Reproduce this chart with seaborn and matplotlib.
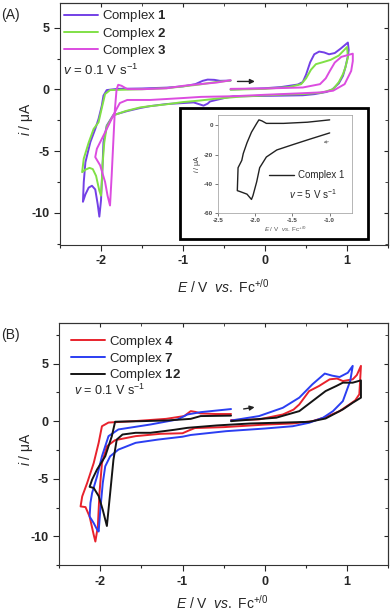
import numpy as np
import pandas as pd
import seaborn as sns
import matplotlib.pyplot as plt
from matplotlib.patches import Rectangle
from matplotlib.ticker import MultipleLocator

# panel A, 0.1 V/s, complexes 1-3
c1_x = [-0.42, -0.2, 0.0, 0.2, 0.4, 0.46, 0.5, 0.55, 0.6, 0.66, 0.72, 0.78, 0.85, 0.92, 1.01,
        1.02, 1.01, 0.98, 0.95, 0.9, 0.82, 0.75, 0.6, 0.46, 0.2, 0.0, -0.3, -0.39, -0.5, -0.67, -0.7,
        -0.75, -0.8, -0.87, -1.0, -1.2, -1.4, -1.52, -1.68, -1.85, -1.93, -1.97, -1.98, -1.99, -2.0,
        -2.02, -2.04, -2.07, -2.11, -2.15, -2.19, -2.22, -2.21, -2.19, -2.13, -2.07, -2.03, -1.99,
        -1.97, -1.93, -1.8, -1.5, -1.2, -1.0, -0.85, -0.76, -0.7, -0.62, -0.55, -0.42]
c1_y = [0.0, 0.05, 0.1, 0.2, 0.4, 0.6, 1.2, 2.2, 2.85, 3.07, 3.0, 2.85, 2.95, 3.3, 3.8,
        3.2, 2.7, 1.8, 1.1, 0.5, 0.0, -0.2, -0.38, -0.47, -0.5, -0.52, -0.55, -0.55, -0.7, -0.97, -1.15,
        -1.31, -1.2, -1.05, -1.1, -1.18, -1.35, -1.5, -1.75, -2.07, -2.93, -4.27, -6.0, -7.5, -9.0,
        -10.3, -9.3, -8.1, -7.8, -7.95, -8.5, -9.1, -7.5, -5.9, -4.27, -3.2, -2.39, -1.31,
        -0.5, -0.05, 0.05, 0.08, 0.15, 0.25, 0.43, 0.7, 0.8, 0.78, 0.7, 0.72]

c2_x = [-0.42, 0.0, 0.3, 0.44, 0.5, 0.56, 0.62, 0.7, 0.8, 0.9, 1.0,
        1.01, 0.98, 0.95, 0.9, 0.83, 0.7, 0.47, 0.2, 0.0, -0.3, -0.6, -0.8, -1.0, -1.2, -1.4, -1.52,
        -1.7, -1.85, -1.93, -1.96, -1.98, -1.99, -2.0, -2.02, -2.06, -2.1, -2.14, -2.19, -2.23,
        -2.21, -2.15, -2.09, -2.03, -1.99, -1.95, -1.89, -1.5, -1.2, -1.0, -0.8, -0.6, -0.42]
c2_y = [-0.02, 0.05, 0.2, 0.43, 0.9, 1.6, 2.05, 2.2, 2.4, 2.75, 3.44,
        2.6, 1.8, 1.24, 0.6, 0.03, -0.25, -0.37, -0.42, -0.48, -0.58, -0.75, -0.9, -1.02, -1.2, -1.35, -1.45,
        -1.75, -2.1, -3.0, -4.3, -6.0, -7.5, -8.6, -8.2, -7.0, -6.45, -6.35, -6.5, -6.7,
        -5.6, -4.3, -3.2, -2.66, -1.5, -0.37, -0.05, 0.02, 0.1, 0.25, 0.4, 0.6, 0.72]

c3_x = [-0.42, 0.0, 0.46, 0.67, 0.74, 0.79, 0.85, 0.93, 1.07,
        1.07, 1.05, 0.97, 0.83, 0.67, 0.4, 0.0, -0.39, -0.78, -0.99, -1.4, -1.68, -1.77, -1.81,
        -1.85, -1.93, -1.99, -2.05, -2.07, -2.01, -1.95, -1.92, -1.89, -1.87, -1.85, -1.83, -1.81,
        -1.79, -1.75, -1.68, -1.5, -1.2, -0.99, -0.8, -0.59, -0.42]
c3_y = [0.05, 0.08, 0.16, 0.43, 0.9, 1.5, 2.18, 2.64, 2.9,
        2.3, 1.5, 0.43, -0.1, -0.24, -0.32, -0.43, -0.55, -0.6, -0.69, -0.85, -0.85, -1.1, -1.58,
        -2.1, -3.2, -4.0, -4.8, -5.48, -6.15, -7.5, -8.6, -9.4, -7.0, -4.27, -1.58, 0.0,
        0.38, 0.3, 0.03, 0.02, 0.1, 0.3, 0.43, 0.56, 0.75]

# inset, complex 1 at 5 V/s
ins_x = [-1.0, -1.3, -1.62, -1.85, -1.91, -1.95, -1.98, -2.05, -2.11, -2.16, -2.18, -2.23, -2.24,
         -2.2, -2.11, -2.05, -2.03, -1.98, -1.94, -1.85, -1.71, -1.49, -1.27, -1.0]
ins_y = [3.6, 2.0, 1.2, 1.2, 2.9, 3.6, 1.2, -4.8, -12, -19.3, -24, -29, -44.6,
         -45.3, -47, -50.6, -48, -38.6, -29, -21.7, -16.9, -13.2, -9.6, -5.3]

# panel B, 0.1 V/s, complexes 4, 7, 12
c4_x = [-0.41, -0.07, 0.22, 0.35, 0.42, 0.54, 0.66, 0.79, 0.88, 0.95, 1.07, 1.12, 1.17,
        1.16, 1.15, 1.1, 1.03, 0.91, 0.74, 0.58, 0.34, 0.0, -0.5, -0.85, -0.92, -1.0, -1.27, -1.57,
        -1.82, -1.92, -1.98, -2.01, -2.03, -2.06, -2.08, -2.13, -2.18, -2.24, -2.22, -2.16, -2.08,
        -2.02, -1.98, -1.9, -1.59, -1.2, -0.98, -0.9, -0.84, -0.78, -0.6, -0.41]
c4_y = [0.1, 0.15, 0.58, 1.0, 1.45, 2.61, 3.05, 3.63, 3.7, 3.48, 3.63, 4.0, 4.8,
        3.5, 2.33, 1.8, 1.45, 0.87, 0.35, 0.0, -0.2, -0.3, -0.52, -0.6, -0.8, -1.05, -1.1, -1.3,
        -1.65, -2.18, -3.63, -6.24, -9.15, -10.45, -9.87, -8.28, -7.46, -7.4, -6.53, -5.37, -3.63,
        -1.88, -0.44, -0.12, 0.0, 0.2, 0.44, 0.87, 0.8, 0.67, 0.62, 0.62]

c7_x = [-0.41, -0.07, 0.22, 0.42, 0.58, 0.73, 0.82, 0.91, 1.01, 1.07,
        1.04, 0.95, 0.83, 0.71, 0.54, 0.34, 0.0, -0.47, -0.9, -1.0, -1.3, -1.57, -1.78, -1.88,
        -1.94, -1.97, -2.0, -2.02, -2.04, -2.08, -2.13, -2.12, -2.1, -2.04, -1.98, -1.9, -1.78,
        -1.39, -1.06, -0.94, -0.78, -0.45, -0.41]
c7_y = [0.05, 0.44, 1.16, 2.04, 3.2, 4.13, 3.95, 3.83, 4.2, 4.8,
        3.5, 1.74, 0.87, 0.3, -0.14, -0.44, -0.64, -0.87, -1.2, -1.35, -1.6, -1.88, -2.47, -3.05,
        -3.92, -5.37, -7.7, -9.58, -9.4, -8.85, -8.28, -7.1, -6.24, -4.8, -3.05, -1.3, -0.72,
        -0.29, 0.15, 0.58, 0.78, 1.02, 1.05]

c12_x = [-0.41, 0.14, 0.42, 0.58, 0.74, 0.87, 0.95, 1.07, 1.17,
         1.17, 1.07, 0.95, 0.74, 0.54, 0.14, -0.17, -0.58, -0.94, -1.1, -1.23, -1.39, -1.57, -1.73,
         -1.8, -1.84, -1.88, -1.92, -1.97, -2.02, -2.08, -2.13, -2.1, -2.04, -1.94, -1.86, -1.82,
         -1.5, -1.19, -0.9, -0.78, -0.41]
c12_y = [0.0, 0.3, 0.87, 1.74, 2.61, 3.05, 3.34, 3.34, 3.54,
         2.04, 1.6, 1.02, 0.23, -0.06, -0.14, -0.2, -0.37, -0.58, -0.75, -0.87, -1.01, -1.01, -1.16,
         -1.6, -3.34, -6.24, -9.1, -7.7, -6.5, -5.8, -5.7, -5.08, -4.2, -3.05, -1.31, -0.05,
         0.0, 0.06, 0.2, 0.44, 0.48]

names_a = ['Complex $\\mathbf{1}$', 'Complex $\\mathbf{2}$', 'Complex $\\mathbf{3}$']
colors_a = ['#7340e6', '#80e046', '#dc4ce0']
names_b = ['Complex $\\mathbf{4}$', 'Complex $\\mathbf{7}$', 'Complex $\\mathbf{12}$']
colors_b = ['#e8222c', '#2b3ef2', '#141414']

sns.set_style('ticks')
plt.rcParams['font.family'] = ['Liberation Sans', 'DejaVu Sans']
plt.rcParams['mathtext.fontset'] = 'custom'
plt.rcParams['mathtext.rm'] = 'Liberation Sans'
plt.rcParams['mathtext.it'] = 'Liberation Sans:italic'
plt.rcParams['mathtext.bf'] = 'Liberation Sans:bold'
plt.rcParams['axes.unicode_minus'] = False


def make_df(xs, ys, names):
    parts = []
    for x, y, n in zip(xs, ys, names):
        parts.append(pd.DataFrame({'E': x, 'i': y, 'complex': n, 'order': range(len(x))}))
    return pd.concat(parts, ignore_index=True)


def style_axes(ax, ylo, yhi, ylab_x, ylab_y, xlab_y):
    ax.set_xlim(-2.5, 1.5)
    ax.set_ylim(ylo, yhi)
    ax.xaxis.set_major_locator(MultipleLocator(1))
    ax.xaxis.set_minor_locator(MultipleLocator(0.5))
    ax.yaxis.set_major_locator(MultipleLocator(5))
    ax.yaxis.set_minor_locator(MultipleLocator(2.5))
    ax.tick_params(which='major', direction='out', length=4, width=0.8, labelsize=9)
    ax.tick_params(which='minor', direction='out', length=2.5, width=0.8)
    for lab in ax.get_xticklabels() + ax.get_yticklabels():
        lab.set_fontweight('bold')
    for s in ax.spines.values():
        s.set_linewidth(0.8)
        s.set_color('#333333')
    ax.set_xlabel('$\\mathit{E}$ / V  $\\mathit{vs.}$ Fc$^{+/0}$', fontsize=10)
    ax.set_ylabel('$\\mathit{i}$ / μA', fontsize=10)
    ax.yaxis.set_label_coords(ylab_x, ylab_y)
    ax.xaxis.set_label_coords(0.497, xlab_y)
    sec = ax.secondary_yaxis('right')
    sec.yaxis.set_major_locator(MultipleLocator(5))
    sec.yaxis.set_minor_locator(MultipleLocator(2.5))
    sec.tick_params(which='major', direction='in', length=3, labelright=False)
    sec.tick_params(which='minor', direction='in', length=2)
    sec2 = ax.secondary_xaxis('top')
    sec2.xaxis.set_major_locator(MultipleLocator(1))
    sec2.xaxis.set_minor_locator(MultipleLocator(0.5))
    sec2.tick_params(which='major', direction='in', length=3, labeltop=False)
    sec2.tick_params(which='minor', direction='in', length=2)


fig = plt.figure(figsize=(3.92, 6.11), dpi=100)
axA = fig.add_axes([0.153, 0.599, 0.837, 0.396])
axB = fig.add_axes([0.151, 0.075, 0.839, 0.396])

dfA = make_df([c1_x, c2_x, c3_x], [c1_y, c2_y, c3_y], names_a)
sns.lineplot(data=dfA, x='E', y='i', hue='complex', palette=colors_a, sort=False,
             estimator=None, units='complex', lw=1.4, ax=axA)
dfB = make_df([c4_x, c7_x, c12_x], [c4_y, c7_y, c12_y], names_b)
sns.lineplot(data=dfB, x='E', y='i', hue='complex', palette=colors_b, sort=False,
             estimator=None, units='complex', lw=1.4, ax=axB)

style_axes(axA, -12.6, 7.0, -0.075, 0.52, -0.135)
style_axes(axB, -12.5, 8.5, -0.075, 0.48, -0.118)

axA.legend(loc='upper left', bbox_to_anchor=(0.012, 0.978), frameon=False, fontsize=9.5,
           handlelength=2.6, handletextpad=0.25, labelspacing=0.1, borderpad=0, borderaxespad=0)
axB.legend(loc='upper left', bbox_to_anchor=(0.036, 0.955), frameon=False, fontsize=9.5,
           handlelength=2.6, handletextpad=0.3, labelspacing=0.05, borderpad=0, borderaxespad=0)

axA.text(0.01, 0.722, '$\\mathit{v}$ = 0.1 V s$^{-1}$', transform=axA.transAxes,
         fontsize=9.5, va='center')
axB.text(0.046, 0.722, '$\\mathit{v}$ = 0.1 V s$^{-1}$', transform=axB.transAxes,
         fontsize=9, va='center')

axA.annotate('', xy=(-0.09, 0.65), xytext=(-0.37, 0.65),
             arrowprops=dict(arrowstyle='-|>', color='#222222', lw=1.0, mutation_scale=7))
axB.annotate('', xy=(-0.09, 1.25), xytext=(-0.29, 1.02),
             arrowprops=dict(arrowstyle='-|>', color='#222222', lw=1.0, mutation_scale=7))

fig.text(0.003, 0.975, '(A)', fontsize=10, va='center')
fig.text(0.003, 0.452, '(B)', fontsize=10, va='center')

# inset box + inset axes
fig.patches.append(Rectangle((0.459, 0.609), 0.48, 0.214, transform=fig.transFigure,
                             fill=True, facecolor='white', edgecolor='black', lw=2.0, zorder=5))
axI = fig.add_axes([0.556, 0.651, 0.342, 0.161], zorder=6)
dfI = pd.DataFrame({'E': ins_x, 'i': ins_y})
sns.lineplot(data=dfI, x='E', y='i', sort=False, estimator=None, color='#222222', lw=1.0,
             ax=axI, label='Complex 1')
axI.set_xlim(-2.5, -0.7)
axI.set_ylim(-60, 7)
axI.set_xticks([-2.5, -2.0, -1.5, -1.0])
axI.set_xticklabels(['-2.5', '-2.0', '-1.5', '-1.0'])
axI.set_yticks([0, -20, -40, -60])
axI.tick_params(labelsize=4.5, length=2, width=0.5, pad=1.5, colors='#444444')
for lab in axI.get_xticklabels() + axI.get_yticklabels():
    lab.set_fontweight('bold')
for s in axI.spines.values():
    s.set_linewidth(0.5)
    s.set_color('#999999')
axI.set_xlabel('$\\mathit{E}$ / V  $\\mathit{vs.}$ Fc$^{+/0}$', fontsize=4.5, labelpad=1, color='#555555')
axI.set_ylabel('$\\mathit{i}$ / μA', fontsize=5, labelpad=1, color='#333333')
axI.legend(loc='upper left', bbox_to_anchor=(0.38, 0.44), frameon=False, fontsize=7,
           handlelength=2.6, handletextpad=0.4, borderpad=0, borderaxespad=0)
axI.text(0.53, 0.19, '$\\mathit{v}$ = 5 V s$^{-1}$', transform=axI.transAxes, fontsize=7,
         va='center')
axI.annotate('', xy=(-1.12, -12.0), xytext=(-0.98, -11.0),
             arrowprops=dict(arrowstyle='-|>', color='#888888', lw=0.6, mutation_scale=4))

fig.savefig('out.png', dpi=100)
